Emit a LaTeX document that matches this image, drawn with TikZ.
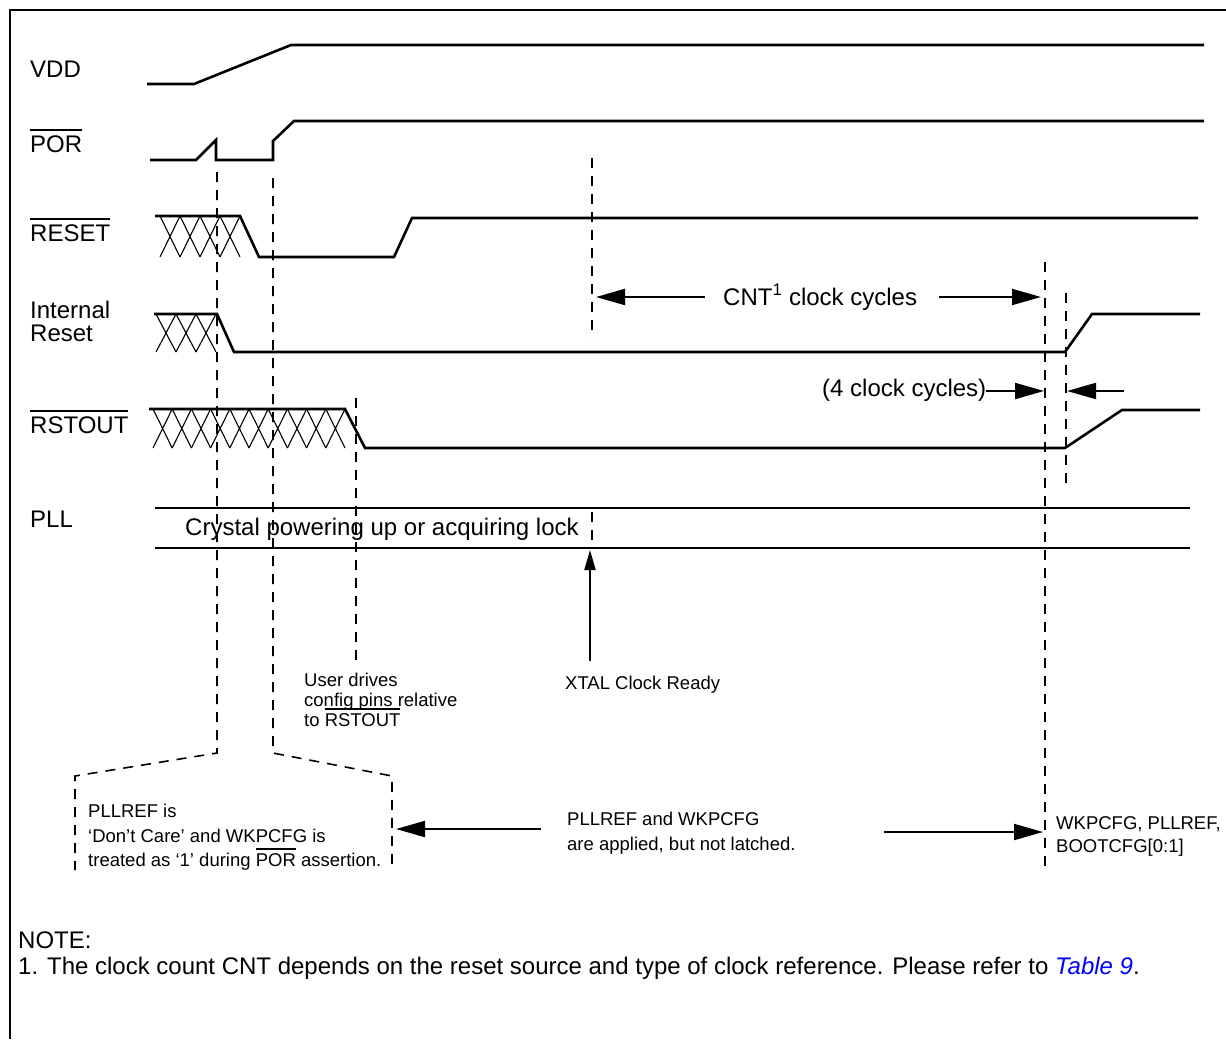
\documentclass[tikz,border=0pt]{standalone}
\usepackage{fontspec}
\setmainfont{Liberation Sans}
\usetikzlibrary{arrows.meta}
\newcommand{\ovl}[1]{\setbox0\hbox{#1}\rlap{\raisebox{\dimexpr\ht0+0.19em\relax}{\rule{\wd0}{0.075em}}}\box0\relax}
\begin{document}
\begin{tikzpicture}[x=1pt,y=-1pt,
  lbl/.style={font=\fontsize{24}{28}\selectfont, anchor=base west, inner sep=0pt},
  sml/.style={font=\fontsize{18.5}{21}\selectfont, anchor=base west, inner sep=0pt},
  sig/.style={line width=2.6pt, line join=miter},
  hatch/.style={line width=1.1pt},
  dsh/.style={line width=1.6pt, dash pattern=on 10pt off 8pt},
  arr/.style={line width=2pt, -{Triangle[length=29pt,width=16pt]}},
  sarr/.style={line width=2pt, -{Triangle[length=20pt,width=11pt]}},
  plll/.style={line width=1.8pt}]
\useasboundingbox (0,0) rectangle (1226,1039);
% frame
\draw[line width=1.2pt] (1226,10) -- (10,10) -- (10,1039);
% labels
\node[lbl] (vdd) at (30,77.5) {VDD};
\node[lbl] (por) at (30,152) {\ovl{POR}};
\node[lbl] (reset) at (30,241) {\ovl{RESET}};
\node[lbl] (ir1) at (30,318) {Internal};
\node[lbl] (ir2) at (30,341) {Reset};
\node[lbl] (rstout) at (30,433) {\ovl{RSTOUT}};
\node[lbl] (pll) at (30,527) {PLL};
% VDD
\draw[sig] (147,84) -- (194,84) -- (291,45) -- (1204,45);
% POR
\draw[sig] (150,160) -- (196,160) -- (216,140) -- (216,160) -- (273,160) -- (273,141) -- (294,121) -- (1204,121);
% RESET
\draw[sig] (155,216) -- (240,216) -- (259,257) -- (394,257) -- (412,218) -- (1198,218);
\foreach \i in {0,...,3} {
  \draw[hatch] ({160+20*\i},216) -- ({180+20*\i},257) ({160+20*\i},257) -- ({180+20*\i},216);
}
% Internal reset
\draw[sig] (154,314) -- (217,314) -- (234,352) -- (1065,352) -- (1092,314) -- (1200,314);
\foreach \i in {0,...,2} {
  \draw[hatch] ({156+20*\i},314) -- ({176+20*\i},352) ({156+20*\i},352) -- ({176+20*\i},314);
}
% RSTOUT
\draw[sig] (149,409) -- (345,409) -- (365,448) -- (1065,448) -- (1122,410) -- (1200,410);
\foreach \i in {0,...,9} {
  \draw[hatch] ({153+19.2*\i},409) -- ({172.2+19.2*\i},448) ({153+19.2*\i},448) -- ({172.2+19.2*\i},409);
}
% PLL
\draw[plll] (155,508) -- (1190,508);
\draw[plll] (155,548) -- (1190,548);
\node[lbl] (crys) at (185,535) {Crystal powering up or acquiring lock};
% dashed verticals
\draw[dsh] (217,172) -- (217,753) -- (75,776) -- (75,870);
\draw[dsh] (273,178) -- (273,753) -- (392,776) -- (392,870);
\draw[dsh] (356,398) -- (356,665);
\draw[dsh] (592,158) -- (592,338);
\draw[dsh] (592,512) -- (592,546);
\draw[dsh] (1045,262) -- (1045,866);
\draw[dsh] (1066,293) -- (1066,488);
% CNT arrows
\node[lbl] (cnt) at (723,305) {CNT\textsuperscript{1} clock cycles};
\coordinate (cntL) at (596,297);
\coordinate (cntR) at (1041,297);
\draw[arr] (cnt.west |- cntL) ++(-18,0) -- (cntL);
\draw[arr] (cnt.east |- cntR) ++(22,0) -- (cntR);
% 4 clock cycles
\node[lbl] (four) at (822,396) {(4 clock cycles)};
\coordinate (fourL) at (1044,391);
\coordinate (fourR) at (1067,391);
\coordinate (fourT) at (1124,391);
\draw[arr] (four.east |- fourL) -- (fourL);
\draw[arr] (fourT) -- (fourR);
% XTAL
\node[sml] (xtr) at (565,689) {XTAL Clock Ready};
\coordinate (xtip) at (590,550);
\draw[sarr] (590,661) -- (xtip);
% user drives
\node[sml] (ud1) at (304,686) {User drives};
\node[sml] (ud2) at (304,706) {config pins relative};
\node[sml] (ud3) at (304,726) {to \ovl{RSTOUT}};
% box text
\node[sml] (b1) at (88,817) {PLLREF is};
\node[sml] (b2) at (88,842) {‘Don’t Care’ and WKPCFG is};
\node[sml] (b3) at (88,866) {treated as ‘1’ during \ovl{POR} assertion.};
% middle text and arrows
\node[sml] (m1) at (567,825) {PLLREF and WKPCFG};
\node[sml] (m2) at (567,850) {are applied, but not latched.};
\coordinate (mL) at (396,829);
\coordinate (mR) at (1043,832);
\draw[arr] (541,829) -- (mL);
\draw[arr] (884,832) -- (mR);
\node[sml] (r1) at (1056,829) {WKPCFG, PLLREF,};
\node[sml] (r2) at (1056,852) {BOOTCFG[0:1]};
% note
\node[lbl] (note) at (18,948) {NOTE:};
\node[lbl] (note1) at (18,974) {1. The clock count CNT depends on the reset source and type of clock reference. Please refer to {\color[rgb]{0,0,1}\itshape Table 9}.};
\end{tikzpicture}
\end{document}
